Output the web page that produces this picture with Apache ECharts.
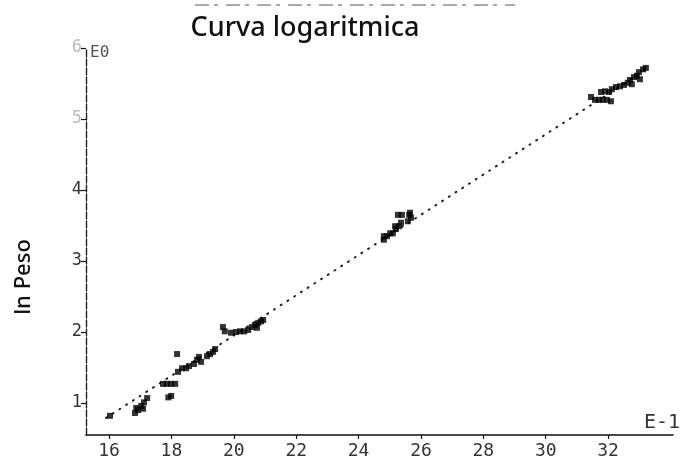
<!DOCTYPE html>
<html>
<head>
<meta charset="utf-8">
<script src="https://cdn.jsdelivr.net/npm/echarts@6/dist/echarts.min.js"></script>
<style>
  html, body { margin: 0; padding: 0; background: #fff; }
  #chart { width: 698px; height: 460px; }
</style>
</head>
<body>
<div id="chart"></div>
<script>
// ln(longitud) x 10 (axis in units of E-1) against ln(peso)
const lnLongitud = [
  16.03,
  16.83, 16.93, 17.03, 17.12, 17.22, 17.09, 16.87,
  17.73, 17.86, 17.99, 18.12,
  17.90, 17.99,
  18.18,
  18.21, 18.34, 18.47, 18.56,
  18.72, 18.82, 18.88, 18.95,
  19.14, 19.24, 19.33, 19.40,
  19.65, 19.71,
  19.91, 20.07, 20.20, 20.33, 20.46,
  20.58, 20.68, 20.78, 20.87, 20.94, 20.74,
  24.81, 24.91, 25.01, 24.81, 25.10, 25.20, 25.29, 25.17, 25.36,
  25.26, 25.39, 25.58, 25.62, 25.65, 25.68,
  31.45, 31.58, 31.71, 31.83, 31.96, 32.09,
  31.77, 31.90, 32.03,
  32.12, 32.25, 32.38, 32.51, 32.63, 32.76,
  32.70, 32.83, 32.92, 33.02,
  32.99, 33.12, 33.21
];
const lnPeso = [
  0.82,
  0.86, 0.90, 0.96, 1.01, 1.07, 0.92, 0.93,
  1.27, 1.27, 1.27, 1.27,
  1.08, 1.10,
  1.69,
  1.44, 1.49, 1.49, 1.52,
  1.55, 1.61, 1.65, 1.58,
  1.66, 1.69, 1.72, 1.76,
  2.07, 2.01,
  1.99, 2.00, 2.01, 2.01, 2.03,
  2.07, 2.10, 2.13, 2.15, 2.17, 2.06,
  3.30, 3.35, 3.39, 3.35, 3.39, 3.45, 3.49, 3.49, 3.54,
  3.65, 3.65, 3.56, 3.65, 3.68, 3.61,
  5.31, 5.27, 5.27, 5.27, 5.27, 5.25,
  5.38, 5.39, 5.38,
  5.42, 5.45, 5.46, 5.48, 5.51, 5.49,
  5.55, 5.59, 5.61, 5.56,
  5.66, 5.70, 5.72
];

// fitted straight line (ends of the dotted curve)
const ajusteX = [15.9, 33.3];
const ajusteY = [0.79, 5.72];

const xTicks = [16, 18, 20, 22, 24, 26, 28, 30, 32];
const yTicks = [1, 2, 3, 4, 5, 6];
const yTicksFaded = [5, 6];

const puntos = lnLongitud.map((x, i) => [x, lnPeso[i]]);
const ajuste = ajusteX.map((x, i) => [x, ajusteY[i]]);

const tickFont = '"DejaVu Sans Mono", "Liberation Mono", monospace';

const chart = echarts.init(document.getElementById('chart'), null, { renderer: 'canvas' });
chart.setOption({
  animation: false,
  backgroundColor: '#ffffff',
  title: {
    text: 'Curva logaritmica',
    left: 300,
    textAlign: 'center',
    top: 10,
    textStyle: {
      fontFamily: '"Noto Sans", sans-serif',
      fontSize: 27,
      fontWeight: 500,
      color: '#111'
    }
  },
  grid: { left: 86, right: 25, top: 48, bottom: 25, containLabel: false },
  xAxis: {
    type: 'value',
    min: 15.26,
    max: 34.08,
    axisLine: { show: true, onZero: false, lineStyle: { color: '#111', width: 1.6 } },
    axisTick: { show: true, customValues: xTicks, length: 4, lineStyle: { color: '#111', width: 1.2 } },
    axisLabel: {
      customValues: xTicks,
      margin: 7,
      fontFamily: tickFont,
      fontSize: 18,
      color: '#333'
    },
    splitLine: { show: false }
  },
  yAxis: {
    type: 'value',
    min: 0.55,
    max: 6,
    axisLine: { show: true, onZero: false, lineStyle: { color: '#222', width: 1.4, type: [7, 2] } },
    axisTick: { show: true, customValues: yTicks, length: 5, lineStyle: { color: '#111', width: 1.2 } },
    axisLabel: {
      customValues: yTicks,
      margin: 4,
      fontFamily: tickFont,
      fontSize: 17,
      formatter: v => yTicksFaded.indexOf(v) >= 0 ? '{f|' + v + '}' : '{n|' + v + '}',
      rich: {
        n: { fontFamily: tickFont, fontSize: 17, color: '#333' },
        f: { fontFamily: tickFont, fontSize: 17, color: '#bbb' }
      }
    },
    splitLine: { show: false }
  },
  graphic: [
    {
      type: 'text', x: 24, y: 277, rotation: Math.PI / 2,
      style: {
        text: 'ln Peso', font: '500 22px "Noto Sans", sans-serif', fill: '#111',
        align: 'center', verticalAlign: 'middle'
      }
    },
    {
      type: 'text', left: 90, top: 45,
      style: { text: 'E0', font: '16px "DejaVu Sans Mono", monospace', fill: '#555' }
    },
    {
      type: 'text', left: 644, top: 413,
      style: { text: 'E-1', font: '20px "DejaVu Sans Mono", monospace', fill: '#333' }
    },
    {
      type: 'line',
      shape: { x1: 195, y1: 5, x2: 515, y2: 5 },
      style: { stroke: '#555', lineWidth: 1.2, lineDash: [14, 5, 4, 8] }
    }
  ],
  series: [
    {
      name: 'ajuste',
      type: 'line',
      data: ajuste,
      symbol: 'none',
      silent: true,
      lineStyle: { color: '#222', width: 2, type: [1, 7], cap: 'round' },
      z: 1
    },
    {
      name: 'datos',
      type: 'scatter',
      data: puntos,
      symbol: 'rect',
      symbolSize: 6,
      itemStyle: { color: '#000' },
      z: 2
    }
  ]
});
</script>
</body>
</html>
